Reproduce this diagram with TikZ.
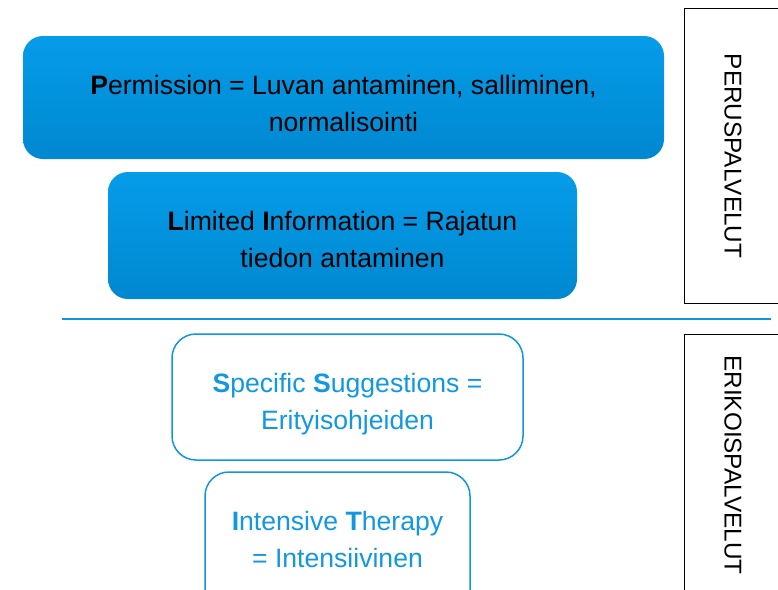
\documentclass[tikz,border=0pt]{standalone}
\usepackage{fontspec}
\setmainfont{Liberation Sans}
\definecolor{bluetop}{HTML}{069CE9}
\definecolor{bluebot}{HTML}{0088D0}
\definecolor{lineblue}{HTML}{1096DE}
\definecolor{textblue}{HTML}{1298E0}
\begin{document}
\begin{tikzpicture}[x=1pt,y=-1pt,
  topbox/.style={rectangle, rounded corners=20pt, top color=bluetop, bottom color=bluebot, draw=none, inner sep=0pt},
  lowbox/.style={rectangle, rounded corners=24pt, draw=lineblue, line width=1.5pt, fill=white, inner sep=0pt},
  txt/.style={font=\fontsize{26.6}{37}\selectfont, align=center, inner sep=0pt},
  sidebox/.style={rectangle, draw=black, line width=1pt, fill=white, inner sep=0pt},
  sidetxt/.style={font=\fontsize{24.3}{28}\selectfont, rotate=-90, inner sep=0pt}]
\clip (0,0) rectangle (778,589);
\fill[white] (0,0) rectangle (778,589);
% top boxes
\node[topbox, minimum width=641pt, minimum height=123pt] (p) at (343.5,97.5) {};
\node[txt, text=black] (ptxt) at (343.5,103.5) {\textbf{P}ermission = Luvan antaminen, salliminen,\\normalisointi};
\node[topbox, minimum width=469pt, minimum height=127pt] (li) at (342.5,235.5) {};
\node[txt, text=black] (litxt) at (342.5,239.5) {\textbf{L}imited \textbf{I}nformation = Rajatun\\tiedon antaminen};
% separator
\coordinate (l1) at (62,319);
\coordinate (l2) at (771,319);
\draw[lineblue, line width=2.8pt] (l1) -- (l2);
% lower boxes
\node[lowbox, minimum width=351pt, minimum height=126pt] (ss) at (347.5,397) {};
\node[txt, text=textblue] (sstxt) at (347.5,404) {\textbf{S}pecific \textbf{S}uggestions =\\Erityisohjeiden};
\node[lowbox, minimum width=265pt, minimum height=150pt] (it) at (337.5,547) {};
\node[txt, text=textblue] (ittxt) at (337.5,539.5) {\textbf{I}ntensive \textbf{T}herapy\\= Intensiivinen};
% side boxes
\node[sidebox, minimum width=110pt, minimum height=295pt] (perus) at (739,155.5) {};
\node[sidetxt] (perustxt) at (733,156) {PERUSPALVELUT};
\node[sidebox, minimum width=110pt, minimum height=300pt] (erik) at (739,484) {};
\node[sidetxt] (eriktxt) at (733,465) {ERIKOISPALVELUT};
\end{tikzpicture}
\end{document}
